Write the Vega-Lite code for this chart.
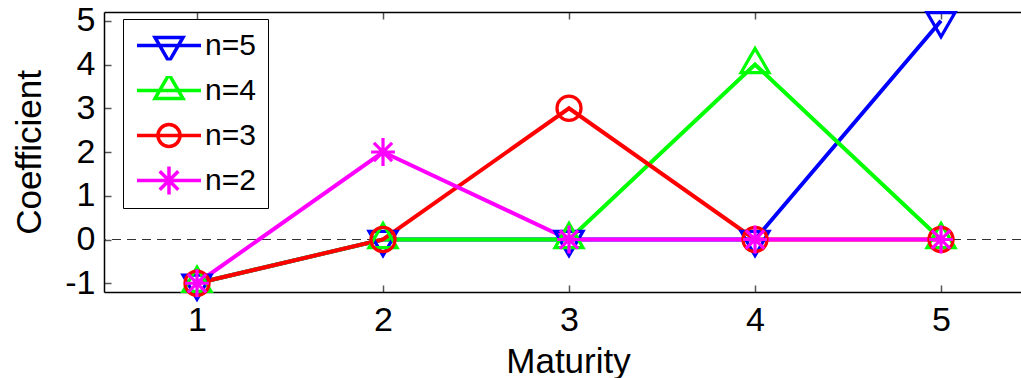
{
  "$schema": "https://vega.github.io/schema/vega-lite/v6.json",
  "width": 917,
  "height": 280,
  "autosize": {"type": "none"},
  "padding": {"left": 104, "top": 12, "right": 0, "bottom": 86},
  "config": {
    "view": {"stroke": null},
    "font": "Liberation Sans",
    "axis": {
      "grid": false,
      "domainColor": "#000000",
      "domainWidth": 1.5,
      "tickColor": "#555555",
      "tickWidth": 1.5,
      "tickSize": -7,
      "labelColor": "#000000",
      "labelFontSize": 34,
      "labelFlush": false,
      "labelOverlap": false,
      "titleColor": "#000000",
      "titleFontSize": 35,
      "titleFontWeight": "normal"
    },
    "legend": {
      "symbolStrokeWidth": 3.5,
      "symbolSize": 4096,
      "symbolOpacity": 1,
      "labelFontSize": 30,
      "labelColor": "#000000",
      "labelOffset": 2,
      "padding": 12,
      "rowPadding": 14,
      "clipHeight": 29,
      "strokeColor": "#000000",
      "fillColor": "#ffffff"
    }
  },
  "datasets": {
    "coef": [
      {"series": "n=5", "maturity": 1, "coefficient": -1},
      {"series": "n=5", "maturity": 2, "coefficient": 0},
      {"series": "n=5", "maturity": 3, "coefficient": 0},
      {"series": "n=5", "maturity": 4, "coefficient": 0},
      {"series": "n=5", "maturity": 5, "coefficient": 5},
      {"series": "n=4", "maturity": 1, "coefficient": -1},
      {"series": "n=4", "maturity": 2, "coefficient": 0},
      {"series": "n=4", "maturity": 3, "coefficient": 0},
      {"series": "n=4", "maturity": 4, "coefficient": 4},
      {"series": "n=4", "maturity": 5, "coefficient": 0},
      {"series": "n=3", "maturity": 1, "coefficient": -1},
      {"series": "n=3", "maturity": 2, "coefficient": 0},
      {"series": "n=3", "maturity": 3, "coefficient": 3},
      {"series": "n=3", "maturity": 4, "coefficient": 0},
      {"series": "n=3", "maturity": 5, "coefficient": 0},
      {"series": "n=2", "maturity": 1, "coefficient": -1},
      {"series": "n=2", "maturity": 2, "coefficient": 2},
      {"series": "n=2", "maturity": 3, "coefficient": 0},
      {"series": "n=2", "maturity": 4, "coefficient": 0},
      {"series": "n=2", "maturity": 5, "coefficient": 0}
    ]
  },
  "resolve": {
    "axis": {"x": "independent"},
    "scale": {"color": "independent", "shape": "independent"}
  },
  "layer": [
    {
      "data": {"values": [{"level": 0}]},
      "mark": {"type": "rule", "color": "#333333", "strokeDash": [9, 6], "strokeWidth": 1},
      "encoding": {
        "y": {
          "field": "level",
          "type": "quantitative",
          "scale": {"domain": [-1.2, 5.2], "nice": false, "zero": false},
          "axis": {
            "orient": "left",
            "values": [-1, 0, 1, 2, 3, 4, 5],
            "labelFontSize": 34,
            "labelPadding": 16,
            "labelExpr": "datum.value < 0 ? '-' + abs(datum.value) : datum.label",
            "title": "Coefficient",
            "titlePadding": 17
          }
        }
      }
    },
    {
      "data": {"name": "coef"},
      "mark": {"type": "line", "strokeWidth": 4},
      "encoding": {
        "x": {
          "field": "maturity",
          "type": "quantitative",
          "scale": {"domain": [0.5, 5.43], "nice": false, "zero": false},
          "axis": {
            "orient": "bottom",
            "values": [1, 2, 3, 4, 5],
            "labelFontSize": 34,
            "labelPadding": 18,
            "title": "Maturity",
            "titlePadding": 7,
            "titleX": 464
          }
        },
        "y": {"field": "coefficient", "type": "quantitative"},
        "color": {
          "field": "series",
          "type": "nominal",
          "scale": {
            "domain": ["n=5", "n=4", "n=3", "n=2"],
            "range": ["#0000ff", "#00ff00", "#ff0000", "#ff00ff"]
          },
          "legend": null
        }
      }
    },
    {
      "data": {"name": "coef"},
      "mark": {"type": "point", "filled": false, "strokeWidth": 3.2, "size": 784, "opacity": 1},
      "encoding": {
        "x": {
          "field": "maturity",
          "type": "quantitative",
          "axis": {
            "orient": "top",
            "values": [1, 2, 3, 4, 5],
            "labels": false,
            "title": null
          }
        },
        "y": {"field": "coefficient", "type": "quantitative"},
        "color": {
          "field": "series",
          "type": "nominal",
          "scale": {
            "domain": ["n=5", "n=4", "n=3", "n=2"],
            "range": ["#0000ff", "#00ff00", "#ff0000", "#ff00ff"]
          },
          "legend": null
        },
        "shape": {
          "field": "series",
          "type": "nominal",
          "scale": {
            "domain": ["n=5", "n=4", "n=3", "n=2"],
            "range": [
              "M-1,-0.577L1,-0.577L0,1.155Z",
              "M-1,0.577L1,0.577L0,-1.155Z",
              "M0.86,0A0.86,0.86 0 1,1 -0.86,0A0.86,0.86 0 1,1 0.86,0Z",
              "M0,-1L0,1M-0.85,0L0.85,0M-0.65,-0.65L0.65,0.65M-0.65,0.65L0.65,-0.65"
            ]
          },
          "legend": null
        }
      }
    },
    {
      "data": {"name": "coef"},
      "transform": [{"filter": "datum.series === 'key only'"}],
      "mark": {"type": "point", "filled": false, "strokeWidth": 3.5, "opacity": 1},
      "encoding": {
        "color": {
          "field": "series",
          "type": "nominal",
          "scale": {
            "domain": ["n=5", "n=4", "n=3", "n=2"],
            "range": ["#0000ff", "#00ff00", "#ff0000", "#ff00ff"]
          },
          "legend": {"orient": "none", "legendX": 19, "legendY": 7, "title": null}
        },
        "shape": {
          "field": "series",
          "type": "nominal",
          "scale": {
            "domain": ["n=5", "n=4", "n=3", "n=2"],
            "range": [
              "M-1,0L1,0M-0.4375,-0.252L0.4375,-0.252L0,0.505Z",
              "M-1,0L1,0M-0.4375,0.252L0.4375,0.252L0,-0.505Z",
              "M-1,0L1,0M0.344,0A0.344,0.344 0 1,1 -0.344,0A0.344,0.344 0 1,1 0.344,0Z",
              "M-1,0L1,0M0,-0.44L0,0.44M-0.29,-0.29L0.29,0.29M-0.29,0.29L0.29,-0.29"
            ]
          },
          "legend": {"orient": "none", "legendX": 19, "legendY": 7, "title": null}
        }
      }
    }
  ]
}
